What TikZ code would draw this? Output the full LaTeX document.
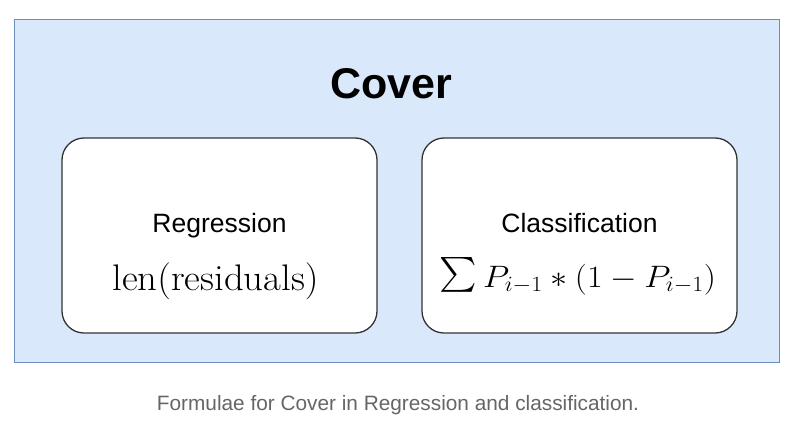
\RequirePackage{fix-cm}
\documentclass[tikz,border=0pt]{standalone}
\usepackage{exscale}
\usepackage{fontspec}
\setsansfont{Liberation Sans}
\definecolor{panelfill}{HTML}{DAE8FC}
\definecolor{paneledge}{HTML}{6C8EBF}
\definecolor{boxedge}{HTML}{333333}
\definecolor{captiongray}{HTML}{666666}
\begin{document}
\begin{tikzpicture}[x=1pt,y=-1pt,
  panel/.style={draw=paneledge,fill=panelfill,line width=0.8pt},
  card/.style={draw=boxedge,fill=white,line width=1.3pt,rounded corners=22pt},
  headtext/.style={font=\sffamily\fontsize{26.5}{30}\selectfont,anchor=base},
  mathtext/.style={anchor=base,inner sep=0pt},
]
\useasboundingbox (0,0) rectangle (794,423);
\fill[white] (0,0) rectangle (794,423);
\draw[panel] (14,19) rectangle (779,362);
\node[font=\sffamily\bfseries\fontsize{43}{48}\selectfont,anchor=base] (title) at (391,98) {Cover};
\draw[card] (62,138) rectangle (377,333);
\draw[card] (422,138) rectangle (737,333);
\node[headtext] (reg) at (219.5,232) {Regression};
\node[mathtext,font=\fontsize{37}{42}\selectfont] (regf) at (215.5,290)
  {\scalebox{1.045}[1]{$\mathrm{len}(\mathrm{residuals})$}};
\node[headtext] (cls) at (579.5,232) {Classification};
\node[mathtext,font=\fontsize{31}{34}\selectfont] (clsf) at (578,287)
  {\scalebox{1.1}[1]{\raisebox{1pt}{\scalebox{1.3}[1.4]{$\sum$}}$\,P_{i-1} * (1 - P_{i-1})$}};
\node[font=\sffamily\fontsize{20.8}{24}\selectfont,text=captiongray,anchor=base] (cap) at (398,410) {Formulae for Cover in Regression and classification.};
\end{tikzpicture}
\end{document}
